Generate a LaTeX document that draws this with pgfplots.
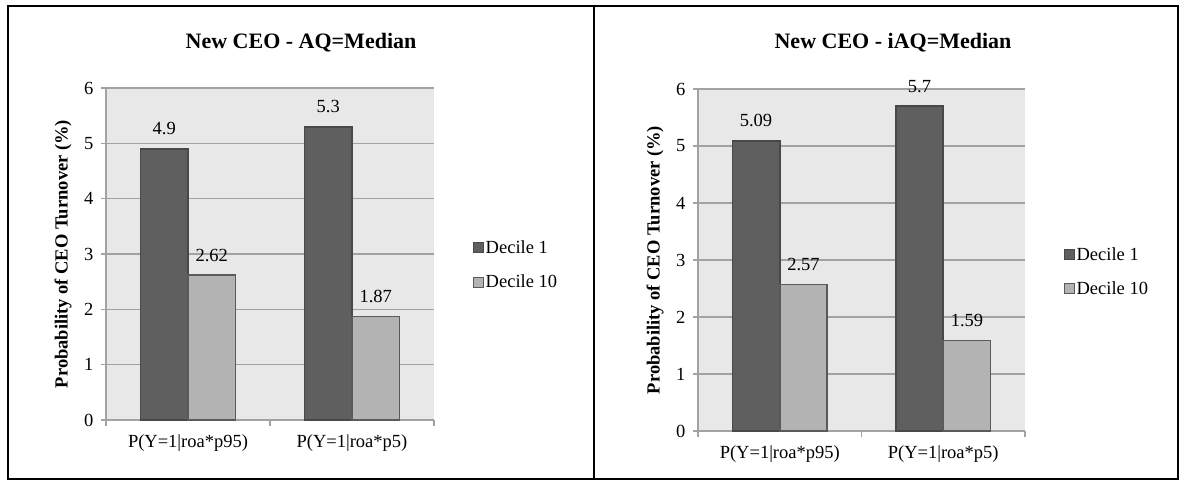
\documentclass[border=0pt]{standalone}
\usepackage{fontspec}
\setmainfont{Liberation Serif}
\usepackage{pgfplots}
\pgfplotsset{compat=1.18}
\definecolor{bgc}{HTML}{E8E8E8}
\definecolor{gridc}{HTML}{A2A2A2}
\definecolor{dark}{HTML}{5F5F5F}
\definecolor{darkb}{HTML}{484848}
\definecolor{light}{HTML}{B3B3B3}
\definecolor{lightb}{HTML}{5A5A5A}
\newcommand\fs{\fontsize{18.5pt}{22pt}\selectfont}
\newcommand\fsT{\fontsize{22pt}{26pt}\selectfont}
\pgfplotsset{
  /pgf/number format/assume math mode=true,
  panel/.style={
    scale only axis, anchor=south west, clip=false,
    xmin=-0.5, xmax=1.5, ymin=0, ymax=6,
    ytick={0,1,2,3,4,5,6},
    xtick={0,1},
    xticklabels={{P(Y=1|roa*p95)},{P(Y=1|roa*p5)}},
    xtick style={draw=none},
    extra x ticks={-0.5,0.5,1.5},
    extra x tick labels={},
    extra x tick style={xtick style={draw=gridc,line width=1.5pt}, major tick length=6pt, xticklabel style={yshift=0pt}},
    ytick style={draw=gridc,line width=1.5pt},
    tick align=outside, major tick length=5pt,
    axis background/.style={fill=bgc},
    axis x line*=bottom, axis y line*=left,
    axis line style={draw=gridc,line width=1.5pt},
    ymajorgrids, grid style={draw=gridc,line width=1.5pt},
    tick label style={font=\fs},
    xticklabel style={yshift=-6pt},
    yticklabel style={xshift=-4pt},
    ylabel={Probability of CEO Turnover (\%)},
    ylabel style={font=\fs\bfseries, at={(axis description cs:-0.131,0.5)}, anchor=center},
    ybar=0pt, bar width=0.29,
    nodes near coords,
    every node near coord/.append style={font=\fs, anchor=base, yshift=14pt, text=black},
    legend cell align=left,
    legend style={anchor=west, draw=none, fill=none, font=\fs, inner sep=0pt, row sep=17pt, nodes={inner sep=1.5pt}},
  },
  d1/.style={fill=dark, draw=darkb, line width=1.6pt,
    legend image code/.code={\draw[fill=dark,draw=darkb,line width=1pt] (0pt,-5pt) rectangle (10pt,5pt);}},
  d10/.style={fill=light, draw=lightb, line width=1.6pt,
    legend image code/.code={\draw[fill=light,draw=lightb,line width=1pt] (0pt,-5pt) rectangle (10pt,5pt);}},
}
\begin{document}
\begin{tikzpicture}
\useasboundingbox (0pt,0pt) rectangle (1186pt,484pt);
\draw[line width=2pt] (8pt,5pt) rectangle (1178pt,478pt);
\draw[line width=2pt] (594pt,5pt) -- (594pt,478pt);
\node[font=\fsT\bfseries] at (301pt,441pt) {New CEO - AQ=Median};
\node[font=\fsT\bfseries] at (893pt,441pt) {New CEO - iAQ=Median};
\begin{axis}[panel, at={(106pt,64pt)}, width=328pt, height=332pt,
  legend style={at={(1.119,0.467)}}]
\addplot[d1] coordinates {(0,4.9) (1,5.3)};
\addplot[d10] coordinates {(0,2.62) (1,1.87)};
\legend{Decile 1, Decile 10}
\end{axis}
\begin{axis}[panel, at={(698pt,53pt)}, width=327pt, height=342pt,
  legend style={at={(1.119,0.466)}}]
\addplot[d1] coordinates {(0,5.09) (1,5.7)};
\addplot[d10] coordinates {(0,2.57) (1,1.59)};
\legend{Decile 1, Decile 10}
\end{axis}
\end{tikzpicture}
\end{document}
